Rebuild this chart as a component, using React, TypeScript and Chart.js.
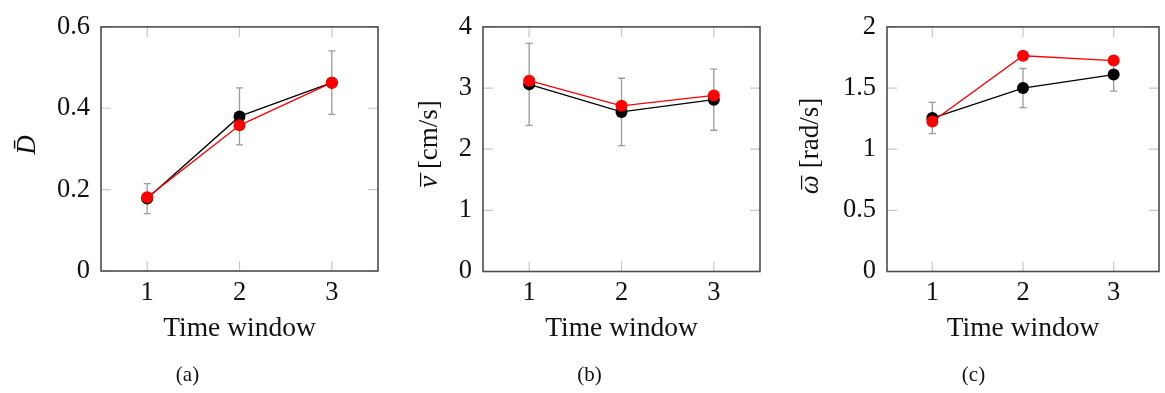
import React, { useEffect, useRef } from "react";
import { Chart, registerables } from "chart.js";

Chart.register(...registerables);

// ---- data ----
const windows = [1, 2, 3];
const xTicks = [1, 2, 3];

const dBlack = [0.178, 0.38, 0.463];
const dRed = [0.181, 0.358, 0.463];
const dErr = [0.037, 0.07, 0.078];
const dTicks = [0, 0.2, 0.4, 0.6];

const vBlack = [3.06, 2.61, 2.81];
const vRed = [3.12, 2.71, 2.88];
const vErr = [0.67, 0.55, 0.5];
const vTicks = [0, 1, 2, 3, 4];

const wBlack = [1.255, 1.5, 1.61];
const wRed = [1.226, 1.764, 1.725];
const wErr = [0.128, 0.16, 0.135];
const wTicks = [0, 0.5, 1, 1.5, 2];

const FONT = '"Liberation Serif", "Times New Roman", serif';

type Seg = { t: string; italic?: boolean; bar?: boolean };

interface PanelCfg {
  width: number;
  left: number;
  right: number;
  top: number;
  bottom: number;
  black: number[];
  red: number[];
  err: number[];
  yTicks: number[];
  yLabel: Seg[];
  yLabelX: number;
  yLabelY: number;
  caption: string;
  capX: number;
  capY: number;
}

const H = 393;

const panelPlugin = {
  id: "panelDeco",
  beforeDatasetsDraw(chart: any, _args: any, opts: any) {
    const ctx = chart.ctx as CanvasRenderingContext2D;
    const { left, right, top, bottom } = chart.chartArea;
    const xs = chart.scales.x;
    const ys = chart.scales.y;
    ctx.save();
    // inner tick marks
    ctx.strokeStyle = "#c8c8c8";
    ctx.lineWidth = 1.2;
    const tl = 10;
    for (const v of opts.xTicks as number[]) {
      const px = xs.getPixelForValue(v);
      ctx.beginPath();
      ctx.moveTo(px, top);
      ctx.lineTo(px, top + tl);
      ctx.moveTo(px, bottom);
      ctx.lineTo(px, bottom - tl);
      ctx.stroke();
    }
    for (const v of opts.yTicks as number[]) {
      const py = ys.getPixelForValue(v);
      ctx.beginPath();
      ctx.moveTo(left, py);
      ctx.lineTo(left + tl, py);
      ctx.moveTo(right, py);
      ctx.lineTo(right - tl, py);
      ctx.stroke();
    }
    // error bars
    ctx.strokeStyle = "#9a9a9a";
    ctx.lineWidth = 1.3;
    const cap = 3.5;
    const xsVals = opts.xs as number[];
    const ysVals = opts.ysVals as number[];
    const errs = opts.errs as number[];
    xsVals.forEach((xv, i) => {
      const px = xs.getPixelForValue(xv);
      const p1 = ys.getPixelForValue(ysVals[i] + errs[i]);
      const p2 = ys.getPixelForValue(ysVals[i] - errs[i]);
      ctx.beginPath();
      ctx.moveTo(px, p1);
      ctx.lineTo(px, p2);
      ctx.moveTo(px - cap, p1);
      ctx.lineTo(px + cap, p1);
      ctx.moveTo(px - cap, p2);
      ctx.lineTo(px + cap, p2);
      ctx.stroke();
    });
    ctx.restore();
  },
  afterDraw(chart: any, _args: any, opts: any) {
    const ctx = chart.ctx as CanvasRenderingContext2D;
    const { left, right, top, bottom } = chart.chartArea;
    ctx.save();
    // frame
    ctx.strokeStyle = "#4d4d4d";
    ctx.lineWidth = 1.6;
    ctx.strokeRect(left, top, right - left, bottom - top);
    // x title
    ctx.fillStyle = "#111";
    ctx.font = `27.5px ${FONT}`;
    ctx.textAlign = "center";
    ctx.textBaseline = "middle";
    ctx.fillText("Time window", (left + right) / 2, 329);
    // caption
    ctx.font = `21px ${FONT}`;
    ctx.fillText(opts.caption, opts.capX, opts.capY);
    // y title (rotated, mixed fonts)
    const segs = opts.yLabel as Seg[];
    ctx.translate(opts.yLabelX, opts.yLabelY);
    ctx.rotate(-Math.PI / 2);
    ctx.textAlign = "left";
    let total = 0;
    const widths = segs.map((s) => {
      ctx.font = `${s.italic ? "italic " : ""}27px ${FONT}`;
      const w = ctx.measureText(s.t).width;
      total += w;
      return w;
    });
    let x = -total / 2;
    segs.forEach((s, i) => {
      ctx.font = `${s.italic ? "italic " : ""}27px ${FONT}`;
      ctx.fillText(s.t, x, 0);
      if (s.bar) {
        ctx.font = `27px ${FONT}`;
        const bw = ctx.measureText("\u00AF").width;
        ctx.fillText("\u00AF", x + widths[i] / 2 - bw / 2 + 2, 4);
      }
      x += widths[i];
    });
    ctx.restore();
  },
};

function Panel({ cfg, offset }: { cfg: PanelCfg; offset: number }) {
  const ref = useRef<HTMLCanvasElement>(null);
  useEffect(() => {
    if (!ref.current) return;
    const yMin = cfg.yTicks[0];
    const yMax = cfg.yTicks[cfg.yTicks.length - 1];
    const chart = new Chart(ref.current, {
      type: "line",
      data: {
        datasets: [
          {
            label: "red",
            data: windows.map((x, i) => ({ x, y: cfg.red[i] })),
            borderColor: "#ff0000",
            backgroundColor: "#ff0000",
            borderWidth: 1.3,
            pointRadius: 6,
            pointBorderWidth: 0,
            pointBackgroundColor: "#ff0000",
            tension: 0,
            order: 0,
          },
          {
            label: "black",
            data: windows.map((x, i) => ({ x, y: cfg.black[i] })),
            borderColor: "#000000",
            backgroundColor: "#000000",
            borderWidth: 1.3,
            pointRadius: 6,
            pointBorderWidth: 0,
            pointBackgroundColor: "#000000",
            tension: 0,
            order: 1,
          },
        ],
      },
      options: {
        responsive: false,
        animation: false,
        devicePixelRatio: 1,
        layout: {
          padding: { left: 0, right: cfg.width - cfg.right, top: cfg.top, bottom: 0 },
        },
        plugins: {
          legend: { display: false },
          tooltip: { enabled: false },
          panelDeco: {
            xTicks,
            yTicks: cfg.yTicks,
            xs: windows,
            ysVals: cfg.black,
            errs: cfg.err,
            yLabel: cfg.yLabel,
            yLabelX: cfg.yLabelX,
            yLabelY: cfg.yLabelY,
            caption: cfg.caption,
            capX: cfg.capX,
            capY: cfg.capY,
          },
        } as any,
        scales: {
          x: {
            type: "linear",
            min: 0.5,
            max: 3.5,
            grid: { display: false, drawTicks: false },
            border: { display: false },
            afterBuildTicks: (s: any) => {
              s.ticks = xTicks.map((v) => ({ value: v }));
            },
            afterFit: (s: any) => {
              s.height = H - cfg.bottom;
            },
            ticks: {
              padding: 6,
              color: "#111",
              font: { family: FONT, size: 26.5 },
              callback: (v: any) => String(v),
              maxRotation: 0,
            },
          },
          y: {
            type: "linear",
            min: yMin,
            max: yMax,
            grid: { display: false, drawTicks: false },
            border: { display: false },
            afterBuildTicks: (s: any) => {
              s.ticks = cfg.yTicks.map((v) => ({ value: v }));
            },
            afterFit: (s: any) => {
              s.width = cfg.left;
            },
            ticks: {
              padding: 11,
              color: "#111",
              font: { family: FONT, size: 26.5 },
              callback: (v: any) => String(+Number(v).toFixed(2)),
            },
          },
        },
      },
      plugins: [panelPlugin],
    } as any);
    return () => chart.destroy();
  }, [cfg]);
  return (
    <canvas
      ref={ref}
      width={cfg.width}
      height={H}
      style={{ position: "absolute", left: offset, top: 0, width: cfg.width, height: H }}
    />
  );
}

const panels: { cfg: PanelCfg; offset: number }[] = [
  {
    offset: 0,
    cfg: {
      width: 390,
      left: 101,
      right: 378,
      top: 17,
      bottom: 271,
      black: dBlack,
      red: dRed,
      err: dErr,
      yTicks: dTicks,
      yLabel: [{ t: "D\u0304", italic: true }],
      yLabelX: 28,
      yLabelY: 145,
      caption: "(a)",
      capX: 187.5,
      capY: 375,
    },
  },
  {
    offset: 390,
    cfg: {
      width: 390,
      left: 93,
      right: 370,
      top: 17,
      bottom: 271.5,
      black: vBlack,
      red: vRed,
      err: vErr,
      yTicks: vTicks,
      yLabel: [{ t: "v", italic: true, bar: true }, { t: " [cm/s]" }],
      yLabelX: 40,
      yLabelY: 144,
      caption: "(b)",
      capX: 199.5,
      capY: 375,
    },
  },
  {
    offset: 780,
    cfg: {
      width: 385,
      left: 107,
      right: 383,
      top: 17,
      bottom: 271.5,
      black: wBlack,
      red: wRed,
      err: wErr,
      yTicks: wTicks,
      yLabel: [{ t: "\u03C9", italic: true, bar: true }, { t: " [rad/s]" }],
      yLabelX: 31,
      yLabelY: 146,
      caption: "(c)",
      capX: 193.5,
      capY: 375,
    },
  },
];

export default function App() {
  return (
    <div style={{ position: "absolute", left: 0, top: 0, width: 1165, height: H, background: "#fff" }}>
      {panels.map((p, i) => (
        <Panel key={i} cfg={p.cfg} offset={p.offset} />
      ))}
    </div>
  );
}
